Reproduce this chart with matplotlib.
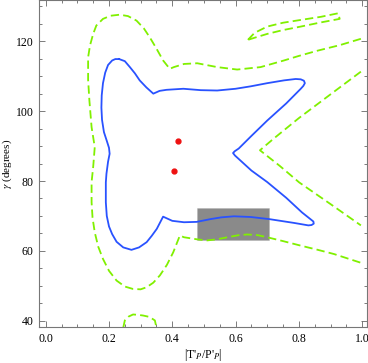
import matplotlib.pyplot as plt
from matplotlib.patches import Rectangle
from matplotlib.ticker import MultipleLocator

plt.rcParams['font.family'] = ['Liberation Serif', 'DejaVu Serif']
plt.rcParams['mathtext.fontset'] = 'stix'

# blue solid contour (closed)
blue_x = [0.232, 0.250, 0.266, 0.282, 0.297, 0.318, 0.340, 0.360, 0.382, 0.435, 0.490, 0.542,
          0.600, 0.648, 0.700, 0.753, 0.790, 0.806, 0.816, 0.819, 0.814, 0.806, 0.760, 0.700,
          0.650, 0.610, 0.597, 0.592, 0.598, 0.650, 0.700, 0.760, 0.810, 0.835, 0.846, 0.847,
          0.840, 0.830, 0.785, 0.706, 0.648, 0.595, 0.555, 0.521, 0.477, 0.437, 0.400, 0.371,
          0.351, 0.335, 0.319, 0.295, 0.271, 0.245, 0.224, 0.210, 0.200, 0.193, 0.190, 0.190,
          0.192, 0.197, 0.202, 0.200, 0.193, 0.184, 0.178, 0.176, 0.177, 0.181, 0.188, 0.197,
          0.210, 0.220, 0.232]
blue_y = [114.9, 114.3, 112.6, 110.8, 108.8, 106.8, 105.0, 105.8, 106.1, 106.4, 106.0, 105.9,
          106.4, 107.1, 108.0, 108.8, 109.2, 109.1, 108.7, 108.0, 107.2, 106.4, 102.2, 97.3,
          92.9, 89.3, 88.5, 88.0, 87.3, 83.0, 79.7, 75.2, 71.0, 69.2, 68.4, 67.8,
          67.4, 67.3, 68.0, 69.1, 69.7, 69.9, 69.6, 69.1, 68.3, 68.2, 68.6, 69.8,
          66.3, 64.3, 62.5, 61.0, 60.3, 61.0, 62.6, 64.8, 67.0, 70.0, 73.9, 79.6,
          82.1, 85.5, 87.8, 89.5, 91.5, 94.0, 97.5, 101.0, 104.5, 108.0, 111.0, 113.2,
          114.5, 114.9, 114.9]

# green dashed outer contour
g1_x = [0.996, 0.930, 0.859, 0.800, 0.753, 0.679, 0.605, 0.542, 0.479, 0.437, 0.405, 0.392,
        0.371, 0.350, 0.329, 0.310, 0.287, 0.260, 0.234, 0.205, 0.181, 0.160, 0.150, 0.140,
        0.134, 0.134, 0.138, 0.145, 0.155, 0.150, 0.145, 0.145, 0.148, 0.155, 0.166, 0.181,
        0.200, 0.224, 0.250, 0.276, 0.300, 0.319, 0.340, 0.361, 0.383, 0.403, 0.424, 0.437,
        0.479, 0.510, 0.540, 0.574, 0.610, 0.637, 0.670, 0.700, 0.750, 0.806, 0.860, 0.911,
        0.996]
g1_y = [120.7, 118.9, 117.3, 115.8, 114.5, 112.6, 111.9, 112.6, 113.7, 113.5, 112.6, 112.1,
        114.5, 117.9, 121.1, 123.7, 125.9, 127.2, 127.6, 127.3, 126.4, 124.5, 122.1, 118.8,
        115.4, 109.0, 103.1, 95.4, 89.7, 84.0, 79.7, 73.9, 69.5, 65.3, 61.2, 57.7,
        54.3, 51.5, 49.8, 49.1, 49.0, 49.6, 50.9, 53.0, 56.0, 59.6, 64.4, 63.9,
        63.3, 63.0, 63.3, 63.9, 64.5, 64.7, 64.5, 63.9, 62.8, 61.5, 60.3, 59.1,
        56.6]

# green dashed V on the right
g2_x = [0.996, 0.900, 0.800, 0.720, 0.677, 0.740, 0.801, 0.900, 0.996]
g2_y = [111.3, 104.8, 98.0, 92.1, 88.8, 84.3, 79.6, 73.4, 67.3]

# green dashed small loop top right
g3_x = [0.639, 0.660, 0.700, 0.750, 0.806, 0.870, 0.924, 0.929, 0.870, 0.806, 0.750, 0.700,
        0.660, 0.639]
g3_y = [120.4, 122.4, 124.2, 125.3, 126.1, 127.0, 128.0, 126.4, 125.4, 124.2, 123.2, 122.1,
        121.0, 120.4]

# green dashed arc at the bottom
g4_x = [0.245, 0.250, 0.262, 0.276, 0.292, 0.308, 0.328, 0.345, 0.350]
g4_y = [38.0, 40.1, 41.2, 41.8, 41.7, 41.5, 41.1, 40.1, 38.0]

# red points
pts_x = [0.419, 0.404]
pts_y = [91.4, 82.8]

# grey box
box_x = [0.477, 0.706]
box_y = [63.0, 72.2]

green = '#80f000'
blue = '#2952ff'

fig = plt.figure(figsize=(3.68, 3.63), dpi=100)
ax = fig.add_axes([0.107, 0.099, 0.89, 0.9])

dash = (0, (4.6, 2.3))
for gx, gy in [(g1_x, g1_y), (g2_x, g2_y), (g3_x, g3_y), (g4_x, g4_y)]:
    ax.plot(gx, gy, color=green, lw=1.3, linestyle=dash)
ax.plot(blue_x, blue_y, color=blue, lw=1.3)
ax.plot(pts_x, pts_y, 'o', color='#ee1111', ms=3.5)

ax.add_patch(Rectangle((box_x[0], box_y[0]), box_x[1] - box_x[0], box_y[1] - box_y[0],
                       facecolor='black', alpha=0.46, edgecolor='#aaaaaa', lw=0.5))

ax.set_xlim(-0.02, 1.015)
ax.set_ylim(38.2, 131.7)
ax.xaxis.set_major_locator(MultipleLocator(0.2))
ax.xaxis.set_minor_locator(MultipleLocator(0.05))
ax.yaxis.set_major_locator(MultipleLocator(20))
ax.yaxis.set_minor_locator(MultipleLocator(5))
ax.tick_params(which='both', direction='in', top=True, right=True, color='#666666',
               labelsize=8.5, width=0.6)
ax.tick_params(which='major', length=4, pad=4)
ax.tick_params(which='minor', length=2)
ax.xaxis.set_major_formatter(plt.FuncFormatter(lambda v, p: f'{v:.1f}'))
for s in ax.spines.values():
    s.set_color('#777777')
    s.set_linewidth(0.8)

ax.set_xlabel(r"|T'$_{P}$/P'$_{P}$|", fontsize=8.5)
ax.set_ylabel(r"$\gamma$ (degrees)", fontsize=8)
ax.xaxis.set_label_coords(0.5, -0.062)
ax.yaxis.set_label_coords(-0.077, 0.5)

fig.savefig('out.png', dpi=100)
